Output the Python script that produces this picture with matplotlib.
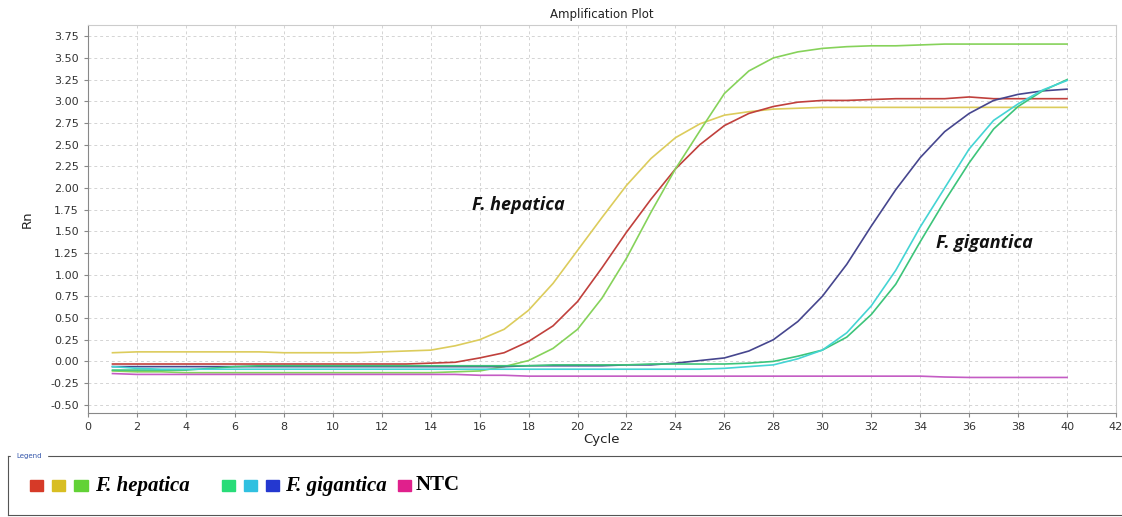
import numpy as np
import matplotlib
matplotlib.use('Agg')
import matplotlib.pyplot as plt
from matplotlib.patches import Rectangle

# cycles 1..40
cycles = list(range(1, 41))

# F. hepatica wells
hep_yellow = [0.10, 0.11, 0.11, 0.11, 0.11, 0.11, 0.11, 0.10, 0.10, 0.10,
              0.10, 0.11, 0.12, 0.13, 0.18, 0.25, 0.37, 0.59, 0.90, 1.28,
              1.66, 2.03, 2.34, 2.58, 2.74, 2.84, 2.88, 2.91, 2.92, 2.93,
              2.93, 2.93, 2.93, 2.93, 2.93, 2.93, 2.93, 2.93, 2.93, 2.93]
hep_red = [-0.03, -0.03, -0.03, -0.03, -0.03, -0.03, -0.03, -0.03, -0.03, -0.03,
           -0.03, -0.03, -0.03, -0.02, -0.01, 0.04, 0.10, 0.23, 0.41, 0.69,
           1.08, 1.49, 1.87, 2.22, 2.50, 2.72, 2.86, 2.94, 2.99, 3.01,
           3.01, 3.02, 3.03, 3.03, 3.03, 3.05, 3.03, 3.03, 3.03, 3.03]
hep_green = [-0.11, -0.12, -0.12, -0.13, -0.13, -0.13, -0.13, -0.13, -0.13, -0.13,
             -0.13, -0.13, -0.13, -0.13, -0.12, -0.11, -0.06, 0.01, 0.15, 0.37,
             0.73, 1.19, 1.72, 2.22, 2.66, 3.09, 3.35, 3.50, 3.57, 3.61,
             3.63, 3.64, 3.64, 3.65, 3.66, 3.66, 3.66, 3.66, 3.66, 3.66]

# F. gigantica wells
gig_blue = [-0.06, -0.06, -0.06, -0.06, -0.06, -0.06, -0.06, -0.06, -0.06, -0.06,
            -0.06, -0.06, -0.06, -0.06, -0.06, -0.06, -0.06, -0.05, -0.05, -0.05,
            -0.05, -0.04, -0.04, -0.02, 0.01, 0.04, 0.12, 0.25, 0.46, 0.75,
            1.12, 1.56, 1.98, 2.35, 2.65, 2.86, 3.01, 3.08, 3.12, 3.14]
gig_cyan = [-0.06, -0.08, -0.09, -0.09, -0.09, -0.09, -0.09, -0.09, -0.09, -0.09,
            -0.09, -0.09, -0.09, -0.09, -0.09, -0.09, -0.09, -0.09, -0.09, -0.09,
            -0.09, -0.09, -0.09, -0.09, -0.09, -0.08, -0.06, -0.04, 0.03, 0.13,
            0.33, 0.64, 1.05, 1.55, 2.00, 2.45, 2.78, 2.97, 3.13, 3.24]
gig_green = [-0.10, -0.10, -0.10, -0.10, -0.08, -0.06, -0.05, -0.05, -0.05, -0.05,
             -0.05, -0.05, -0.05, -0.05, -0.05, -0.05, -0.05, -0.05, -0.04, -0.04,
             -0.04, -0.04, -0.03, -0.03, -0.03, -0.03, -0.02, 0.00, 0.06, 0.13,
             0.28, 0.54, 0.89, 1.38, 1.85, 2.29, 2.68, 2.94, 3.12, 3.25]

# no template control
ntc = [-0.14, -0.15, -0.15, -0.15, -0.15, -0.15, -0.15, -0.15, -0.15, -0.15,
       -0.15, -0.15, -0.15, -0.15, -0.15, -0.16, -0.16, -0.17, -0.17, -0.17,
       -0.17, -0.17, -0.17, -0.17, -0.17, -0.17, -0.17, -0.17, -0.17, -0.17,
       -0.17, -0.17, -0.17, -0.17, -0.18, -0.185, -0.185, -0.185, -0.185, -0.185]

series = [
    (hep_yellow, '#dccc5c'),
    (hep_red, '#c0403c'),
    (hep_green, '#86d25a'),
    (gig_blue, '#46468e'),
    (gig_green, '#3cc47a'),
    (gig_cyan, '#44d4d4'),
    (ntc, '#c45cc4'),
]

fig = plt.figure(figsize=(11.22, 5.17), dpi=100)
ax = fig.add_axes([88/1122, 1 - 413/517, (1116 - 88)/1122, (413 - 25)/517])

for vals, col in series:
    ax.plot(cycles, vals, color=col, lw=1.2)

ax.set_xlim(0, 42)
ax.set_ylim(-0.595, 3.88)
ax.set_xticks(np.arange(0, 43, 2))
ax.set_yticks(np.arange(-0.5, 3.76, 0.25))
ax.set_yticklabels(['%.2f' % v for v in np.arange(-0.5, 3.76, 0.25)])
ax.tick_params(labelsize=8, colors='#333333', length=3, color='#888888')
ax.grid(True, ls=(0, (3, 3)), color='#d4d4d4', lw=0.7)
for s in ['left', 'bottom']:
    ax.spines[s].set_color('#888888')
for s in ['top', 'right']:
    ax.spines[s].set_color('#cccccc')

ax.set_title('Amplification Plot', fontsize=8.5, color='#222222', pad=5)
ax.set_xlabel('Cycle', fontsize=9.5, color='#222222', labelpad=1)
ax.set_ylabel('Rn', fontsize=9.5, color='#222222', labelpad=12)

ax.text(15.7, 1.80, 'F. hepatica', fontsize=13, fontweight='bold', style='italic',
        family='Open Sans', va='center', color='#111111')
ax.text(34.65, 1.37, 'F. gigantica', fontsize=13, fontweight='bold', style='italic',
        family='Open Sans', va='center', color='#111111')

# legend panel
lg = fig.add_axes([8/1122, 1 - 515/517, 1.0, 59/517])
lg.set_xlim(0, 1114)
lg.set_ylim(60, 0)
lg.set_xticks([])
lg.set_yticks([])
for s in lg.spines.values():
    s.set_color('#555555')
    s.set_linewidth(0.8)
lg.text(8, 0, 'Legend', fontsize=5, color='#3355aa', va='center',
        backgroundcolor='white')

leg_colors = ['#d63a28', '#d8be22', '#62d236', '#28dc78', '#30c0e0', '#2438d0', '#e0208c']
leg_x = [22, 44, 66, 212, 234, 256, 387]
for c, x0 in zip(leg_colors, leg_x):
    lg.add_patch(Rectangle((x0, 24), 13, 12, color=c))
lg.text(86, 30, 'F. hepatica', family='Liberation Serif', fontsize=15,
        fontweight='bold', style='italic', va='center')
lg.text(275, 30, 'F. gigantica', family='Liberation Serif', fontsize=15,
        fontweight='bold', style='italic', va='center')
lg.text(405, 30, 'NTC', family='Liberation Serif', fontsize=15,
        fontweight='bold', va='center')

fig.savefig('out.png', dpi=100)
